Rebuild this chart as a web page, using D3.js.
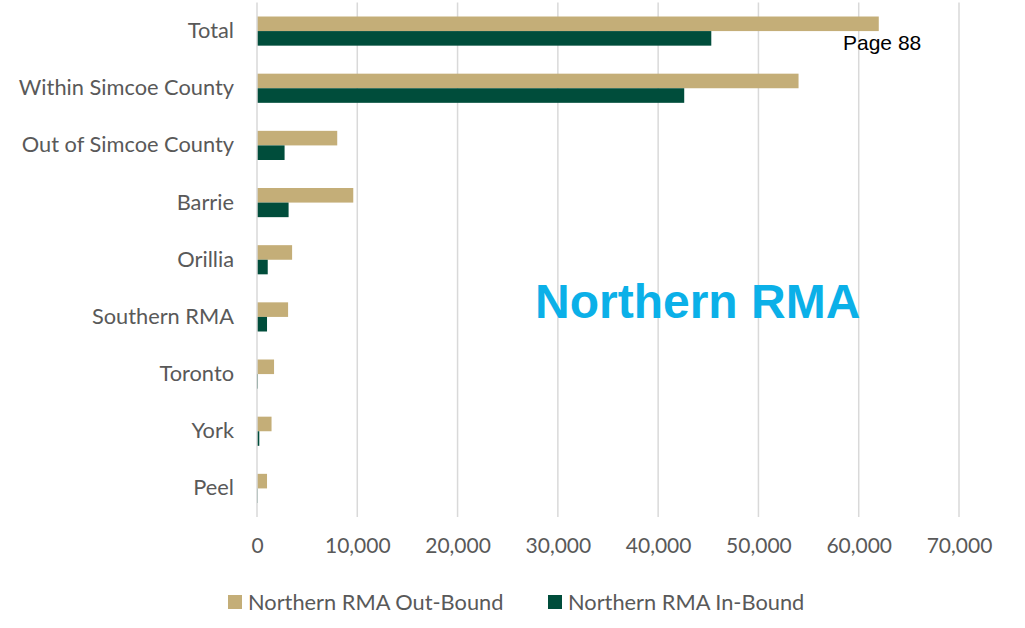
<!DOCTYPE html>
<html>
<head>
<meta charset="utf-8">
<script src="https://cdn.jsdelivr.net/npm/d3@7"></script>
<style>
  html, body { margin: 0; padding: 0; background: #fff; }
  svg { display: block; }
</style>
</head>
<body>
<svg id="chart" width="1025" height="628"></svg>
<script>
// Trip origins/destinations for the Northern RMA
const categories = ["Total", "Within Simcoe County", "Out of Simcoe County", "Barrie", "Orillia", "Southern RMA", "Toronto", "York", "Peel"];
const outBound = [62000, 54000, 8000, 9600, 3500, 3100, 1700, 1450, 1000];
const inBound = [45300, 42600, 2750, 3150, 1070, 1000, 100, 230, 60];
const seriesNames = ["Northern RMA Out-Bound", "Northern RMA In-Bound"];
const xTicks = [0, 10000, 20000, 30000, 40000, 50000, 60000, 70000];

const colors = ["#C4AE78", "#004D3B"];
const textGrey = "#595959";
const labelFont = "Lato, 'Open Sans', sans-serif";

const svg = d3.select("#chart");
const plotLeft = 257, plotRight = 959, plotTop = 2.5, plotBottom = 517;

const x = d3.scaleLinear().domain([0, 70000]).range([plotLeft, plotRight]);
const y = d3.scaleBand().domain(categories).range([plotTop, plotBottom]).paddingInner(0.49).paddingOuter(0.245);
const ySub = d3.scaleBand().domain([0, 1]).range([0, y.bandwidth()]);

// vertical gridlines
svg.append("g")
  .selectAll("line")
  .data(xTicks.slice(1))
  .join("line")
  .attr("x1", d => x(d)).attr("x2", d => x(d))
  .attr("y1", plotTop).attr("y2", plotBottom)
  .attr("stroke", "#D9D9D9").attr("stroke-width", 1.5);

// bars
const rows = categories.map((c, i) => ({ c, vals: [outBound[i], inBound[i]] }));
const groups = svg.append("g").selectAll("g")
  .data(rows).join("g")
  .attr("transform", d => `translate(0,${y(d.c)})`);
groups.selectAll("rect")
  .data(d => d.vals.map((v, k) => ({ v, k })))
  .join("rect")
  .attr("x", x(0))
  .attr("y", d => ySub(d.k))
  .attr("width", d => x(d.v) - x(0))
  .attr("height", ySub.bandwidth())
  .attr("fill", d => colors[d.k]);

// category axis line
svg.append("line")
  .attr("x1", x(0)).attr("x2", x(0))
  .attr("y1", plotTop).attr("y2", plotBottom)
  .attr("stroke", "#D9D9D9").attr("stroke-width", 1.5);

// category labels
const yAxis = svg.append("g")
  .attr("transform", `translate(${plotLeft},0)`)
  .call(d3.axisLeft(y).tickSize(0).tickPadding(23));
yAxis.select(".domain").remove();
yAxis.selectAll("text")
  .attr("font-family", labelFont).attr("font-size", 21.8)
  .attr("fill", textGrey);

// value axis labels
const xAxis = svg.append("g")
  .attr("transform", `translate(0,${plotBottom})`)
  .call(d3.axisBottom(x).tickValues(xTicks).tickSize(0).tickPadding(21).tickFormat(d3.format(",")));
xAxis.select(".domain").remove();
xAxis.selectAll("text")
  .attr("font-family", labelFont).attr("font-size", 21)
  .attr("fill", textGrey);

// legend
const legendX = [228, 548];
const legend = svg.append("g").selectAll("g")
  .data(seriesNames).join("g")
  .attr("transform", (d, i) => `translate(${legendX[i]},595)`);
legend.append("rect")
  .attr("width", 14).attr("height", 14)
  .attr("fill", (d, i) => colors[i]);
legend.append("text")
  .attr("x", 20).attr("y", 14.5)
  .attr("font-family", labelFont).attr("font-size", 21.8)
  .attr("fill", textGrey)
  .text(d => d);

// overlay title
svg.append("text")
  .attr("x", 535).attr("y", 318)
  .attr("font-family", "Arial, 'Liberation Sans', sans-serif")
  .attr("font-weight", "bold").attr("font-size", 48)
  .attr("fill", "#0BB0E8")
  .text("Northern RMA");

// page number
svg.append("text")
  .attr("x", 843).attr("y", 50)
  .attr("font-family", "Arial, 'Liberation Sans', sans-serif")
  .attr("font-size", 21)
  .attr("fill", "#000")
  .text("Page 88");
</script>
</body>
</html>
